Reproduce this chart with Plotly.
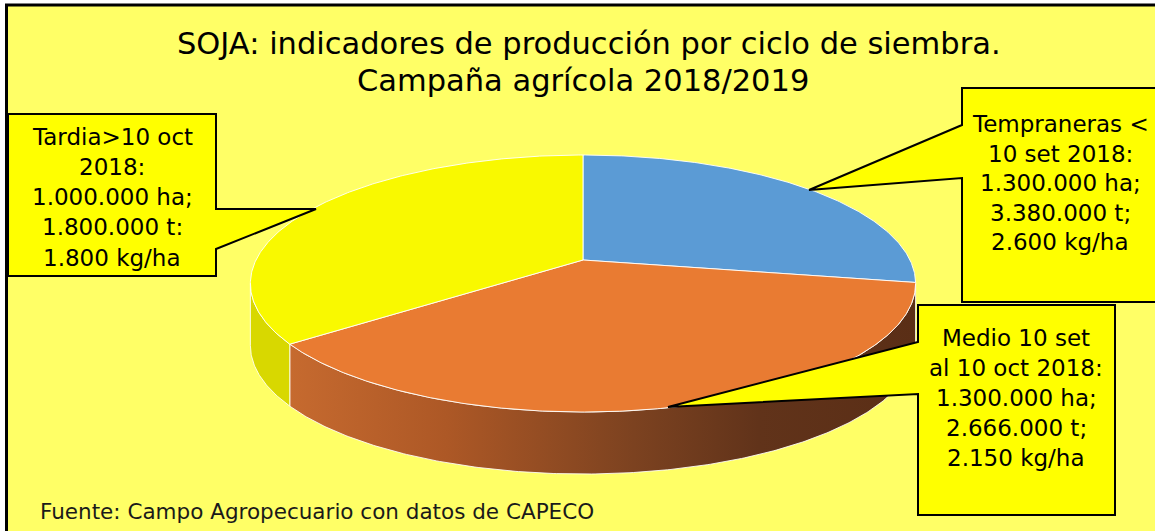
import math
import plotly.graph_objects as go

# ---------------- data ----------------
categories = ["Tempraneras", "Medio", "Tardia"]
label_lines = [
    ["Tempraneras <", "10 set 2018:"],
    ["Medio 10 set", "al 10 oct 2018:"],
    ["Tardia>10 oct", "2018:"],
]
area_ha = [1300000, 1300000, 1000000]
production_t = [3380000, 2666000, 1800000]
yield_kg_ha = [2600, 2150, 1800]
prod_sep = [";", ";", ":"]
# slice sizes as drawn in the picture (percent of the pie)
slice_share_pct = [27.8, 36.9, 35.3]

title_lines = ["SOJA: indicadores de producción por ciclo de siembra.",
               "Campaña agrícola 2018/2019"]
source_text = "Fuente: Campo Agropecuario con datos de CAPECO"

# ---------------- style / layout ----------------
W, H = 1155, 531
BG = "#FFFF66"
top_colors = ["#5B9BD5", "#E97B32", "#F9F900"]
side_colors = [None, None, "#D8D800"]
orange_side_scale = [[0, "#C66A2F"], [0.25, "#AD5826"], [0.55, "#7C4220"],
                     [0.75, "#61331A"], [1, "#5A2E16"]]
FONT = "DejaVu Sans"

cx, cy = 583, 260          # pie centre on screen
A, B, r = 327, 124.2, 0.183  # perspective ellipse parameters
DEPTH = 62


def fmt(v):
    return f"{v:,}".replace(",", ".")


def proj(theta_deg, dy=0.0):
    t = math.radians(theta_deg)
    d = 1 + r * math.cos(t)
    return cx + A * math.sin(t) / d, cy - B * math.cos(t) / d + dy


def arc(a0, a1, dy=0.0, n=None):
    n = n or max(4, int(abs(a1 - a0) * 2))
    pts = [proj(a0 + (a1 - a0) * i / n, dy) for i in range(n + 1)]
    return [p[0] for p in pts], [p[1] for p in pts]


# cumulative angles (clockwise from 12 o'clock)
total = sum(slice_share_pct)
bounds = [0.0]
for s in slice_share_pct:
    bounds.append(bounds[-1] + 360.0 * s / total)

vis0 = math.degrees(math.acos(-r))
vis1 = 360 - vis0

fig = go.Figure()

# sides (front-facing rim)
for i in range(len(categories)):
    a0, a1 = max(bounds[i], vis0), min(bounds[i + 1], vis1)
    if a1 <= a0:
        continue
    xt, yt = arc(a0, a1)
    xb, yb = arc(a1, a0, DEPTH)
    xs = xt + xb + [xt[0]]
    ys = yt + yb + [yt[0]]
    kw = dict(x=xs, y=ys, mode="lines", fill="toself",
              line=dict(color="rgba(255,255,255,0.85)", width=1),
              hoverinfo="skip", showlegend=False)
    if side_colors[i] is None:
        kw["fillgradient"] = dict(type="horizontal", colorscale=orange_side_scale,
                                  start=min(xs), stop=max(xs))
    else:
        kw["fillcolor"] = side_colors[i]
    fig.add_trace(go.Scatter(**kw))

# top faces
for i in range(len(categories)):
    xa, ya = arc(bounds[i], bounds[i + 1])
    xs = [cx] + xa + [cx]
    ys = [cy] + ya + [cy]
    fig.add_trace(go.Scatter(x=xs, y=ys, mode="lines", fill="toself",
                             fillcolor=top_colors[i],
                             line=dict(color="rgba(255,255,255,0.9)", width=1),
                             hoverinfo="skip", showlegend=False,
                             name=categories[i]))

shapes = []
# chart border
shapes.append(dict(type="rect", xref="x", yref="y", x0=6.5, y0=5, x1=1170, y1=545,
                   line=dict(color="black", width=3), fillcolor=BG, layer="below"))

# callouts: box (x0, x1, y0, y1), wedge base y's on box side, tip point
callouts = [
    dict(box=(962, 1170, 88, 302), side="left", base=(125, 178), tip=(809, 190),
         cxl=1060, ys=[124, 153.5, 183, 212.5, 242]),
    dict(box=(918, 1115, 305, 515), side="left", base=(342, 394), tip=(668, 407),
         cxl=1016, ys=[338, 368, 398, 428, 457.5]),
    dict(box=(8, 216, 114, 276), side="right", base=(209, 249), tip=(316, 209),
         cxl=112, ys=[137, 167, 197, 227, 258]),
]
for c in callouts:
    x0, x1, y0, y1 = c["box"]
    b0, b1 = c["base"]
    tx, ty = c["tip"]
    if c["side"] == "left":
        path = (f"M {x0},{y0} L {x1},{y0} L {x1},{y1} L {x0},{y1} "
                f"L {x0},{b1} L {tx},{ty} L {x0},{b0} Z")
    else:
        path = (f"M {x0},{y0} L {x1},{y0} L {x1},{b0} L {tx},{ty} "
                f"L {x1},{b1} L {x1},{y1} L {x0},{y1} Z")
    shapes.append(dict(type="path", xref="x", yref="y", path=path,
                       fillcolor="#FFFF00", line=dict(color="black", width=2),
                       layer="above"))

annotations = []
for i, c in enumerate(callouts):
    lines = label_lines[i] + [f"{fmt(area_ha[i])} ha;",
                              f"{fmt(production_t[i])} t{prod_sep[i]}",
                              f"{fmt(yield_kg_ha[i])} kg/ha"]
    for ln, yy in zip(lines, c["ys"]):
        annotations.append(dict(x=c["cxl"], y=yy, xref="x", yref="y", text=ln,
                                showarrow=False, xanchor="center", yanchor="middle",
                                font=dict(family=FONT, size=23, color="black")))

annotations.append(dict(x=589, y=43, xref="x", yref="y", text=title_lines[0],
                        showarrow=False, xanchor="center", yanchor="middle",
                        font=dict(family=FONT, size=30.5, color="black")))
annotations.append(dict(x=583, y=80, xref="x", yref="y", text=title_lines[1],
                        showarrow=False, xanchor="center", yanchor="middle",
                        font=dict(family=FONT, size=30.5, color="black")))
annotations.append(dict(x=38, y=511, xref="x", yref="y", text=source_text,
                        showarrow=False, xanchor="left", yanchor="middle",
                        font=dict(family=FONT, size=21.5, color="#1a1a1a")))

fig.update_layout(
    width=W, height=H,
    margin=dict(l=0, r=0, t=0, b=0, pad=0),
    paper_bgcolor="white", plot_bgcolor="white",
    xaxis=dict(range=[0, W], visible=False, fixedrange=True),
    yaxis=dict(range=[H, 0], visible=False, fixedrange=True),
    shapes=shapes, annotations=annotations, showlegend=False,
)

fig.write_html("out.html",
               config={"displayModeBar": False, "staticPlot": True},
               post_script="document.body.style.margin='0';"
                           "document.body.style.overflow='hidden';")
